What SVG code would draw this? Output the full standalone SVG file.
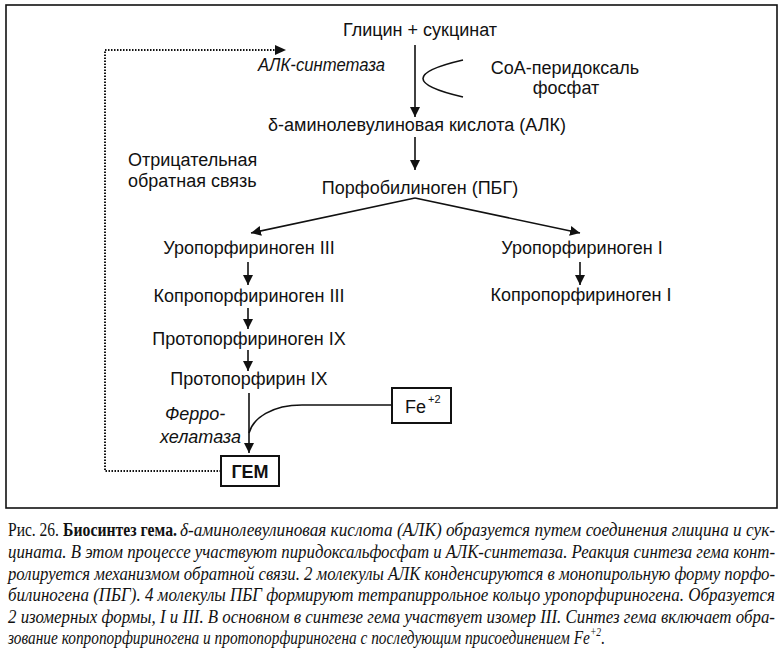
<svg xmlns="http://www.w3.org/2000/svg" width="784" height="660" viewBox="0 0 784 660">
<style>
.t{font-family:"Liberation Sans",Arial,sans-serif;font-size:18px;fill:#111;text-anchor:middle}
.l{text-anchor:start}
.i{font-style:italic}
.b{font-weight:bold}
.c{font-family:"Liberation Serif","Times New Roman",serif;font-size:16px;fill:#111;font-style:italic}
.ln{stroke:#111;stroke-width:1.6;fill:none}
.dot{stroke:#111;stroke-width:2;fill:none;stroke-dasharray:1.5 1.5}
.box{fill:#fff;stroke:#111;stroke-width:2}
</style>
<defs>
<marker id="ah" viewBox="0 0 10 10" refX="10" refY="5" markerWidth="10" markerHeight="10" markerUnits="userSpaceOnUse" orient="auto">
<path d="M0,0 L10,5 L0,10 z" fill="#111"/>
</marker>
</defs>
<rect x="6" y="5" width="771" height="503" fill="none" stroke="#111" stroke-width="1.6"/>
<g id="connectors">
<path class="ln" d="M415,45 V117" marker-end="url(#ah)"/>
<path class="ln" d="M463,60 Q383,78.5 463,97"/>
<path class="ln" d="M415,137 V170" marker-end="url(#ah)"/>
<path class="ln" d="M415,198 L251,233" marker-end="url(#ah)"/>
<path class="ln" d="M415,198 L580,233" marker-end="url(#ah)"/>
<path class="ln" d="M248,262 V285" marker-end="url(#ah)"/>
<path class="ln" d="M580,262 V285" marker-end="url(#ah)"/>
<path class="ln" d="M248,308 V329" marker-end="url(#ah)"/>
<path class="ln" d="M248,350 V371" marker-end="url(#ah)"/>
<path class="ln" d="M249,393 V453" marker-end="url(#ah)"/>
<path class="ln" d="M392,405 H302 C272,405 253,418 249,433"/>
<path class="dot" d="M221,471 H105 V50 H276"/>
<path d="M275,45 L286,50 L275,55 z" fill="#111"/>
</g>
<g id="glycine"><text class="t" x="420" y="36">Глицин +  сукцинат</text></g>
<g id="alk-synthase"><text class="t i l" x="258" y="71" textLength="127" lengthAdjust="spacingAndGlyphs">АЛК-синтетаза</text></g>
<g id="coa"><text class="t" x="565" y="74">СоА-перидоксаль</text><text class="t" x="566" y="94">фосфат</text></g>
<g id="ala"><text class="t" x="417" y="131">δ-аминолевулиновая кислота (АЛК)</text></g>
<g id="feedback"><text class="t l" x="128" y="166">Отрицательная</text><text class="t l" x="128" y="187">обратная связь</text></g>
<g id="pbg"><text class="t" x="420" y="194">Порфобилиноген (ПБГ)</text></g>
<g id="uro3"><text class="t" x="249" y="254">Уропорфириноген III</text></g>
<g id="uro1"><text class="t" x="582" y="254">Уропорфириноген I</text></g>
<g id="copro3"><text class="t" x="249" y="302">Копропорфириноген III</text></g>
<g id="copro1"><text class="t" x="581" y="301">Копропорфириноген I</text></g>
<g id="protogen"><text class="t" x="249" y="345">Протопорфириноген IX</text></g>
<g id="proto"><text class="t" x="249" y="385">Протопорфирин IX</text></g>
<g id="ferro"><text class="t i l" x="165" y="420">Ферро-</text><text class="t i l" x="160" y="443">хелатаза</text></g>
<g id="fe"><rect class="box" x="392" y="388" width="59" height="35"/><text class="t l" x="405" y="413">Fe<tspan dx="2" dy="-10" style="font-size:11px">+2</tspan></text></g>
<g id="heme"><rect class="box" x="221" y="456" width="58" height="30"/><text class="t b" x="250" y="478">ГЕМ</text></g>
<g id="caption">
<text class="c" transform="translate(8,536) scale(1,1.15)" style="font-style:normal" textLength="51" lengthAdjust="spacingAndGlyphs">Рис. 26.</text>
<text class="c" transform="translate(63,536) scale(1,1.15)" style="font-style:normal;font-weight:bold" textLength="114" lengthAdjust="spacingAndGlyphs">Биосинтез гема.</text>
<text class="c" transform="translate(180,536) scale(1,1.15)" textLength="595" lengthAdjust="spacingAndGlyphs">δ-аминолевулиновая кислота (АЛК) образуется путем соединения глицина и сук-</text>
<text class="c" transform="translate(8,558) scale(1,1.15)" textLength="767" lengthAdjust="spacingAndGlyphs">цината. В этом процессе участвуют пиридоксальфосфат и АЛК-синтетаза. Реакция синтеза гема конт-</text>
<text class="c" transform="translate(8,579.5) scale(1,1.15)" textLength="767" lengthAdjust="spacingAndGlyphs">ролируется механизмом обратной связи. 2 молекулы АЛК конденсируются в монопирольную форму порфо-</text>
<text class="c" transform="translate(8,601) scale(1,1.15)" textLength="767" lengthAdjust="spacingAndGlyphs">билиногена (ПБГ). 4 молекулы ПБГ формируют тетрапиррольное кольцо уропорфириногена. Образуется</text>
<text class="c" transform="translate(8,622.5) scale(1,1.15)" textLength="767" lengthAdjust="spacingAndGlyphs">2 изомерных формы, I и III. В основном в синтезе гема участвует изомер III. Синтез гема включает обра-</text>
<text class="c" transform="translate(8,644) scale(1,1.15)" textLength="597" lengthAdjust="spacingAndGlyphs">зование копропорфириногена и протопорфириногена с последующим присоединением Fe<tspan dy="-7" style="font-size:10px">+2</tspan><tspan dy="7">.</tspan></text>
</g>
</svg>
